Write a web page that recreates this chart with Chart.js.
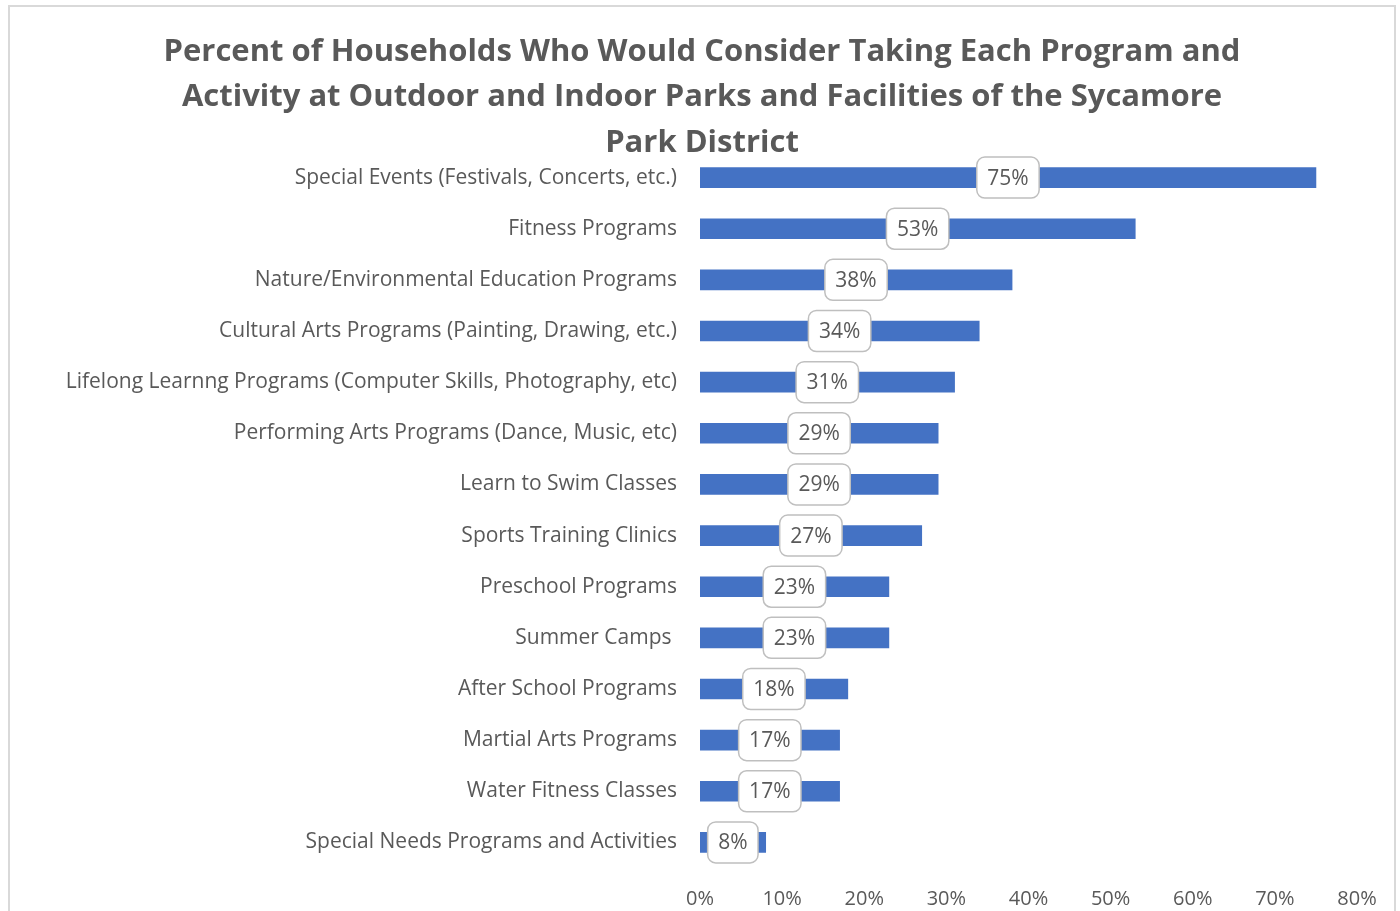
<!DOCTYPE html>
<html>
<head>
<meta charset="utf-8">
<script src="https://cdn.jsdelivr.net/npm/chart.js@4"></script>
<style>
  html, body { margin: 0; padding: 0; background: #fff; }
  #frame { position: absolute; left: 8px; top: 5px; width: 1388px; height: 940px; border: 2px solid #d9d9d9; box-sizing: border-box; }
  #wrap { position: absolute; left: 0; top: 0; width: 1400px; height: 911px; }
</style>
</head>
<body>
<div id="frame"></div>
<div id="wrap"><canvas id="programChart" width="1400" height="911"></canvas></div>
<script>
var programs = [
    "Special Events (Festivals, Concerts, etc.)",
    "Fitness Programs",
    "Nature/Environmental Education Programs",
    "Cultural Arts Programs (Painting, Drawing, etc.)",
    "Lifelong Learnng Programs (Computer Skills, Photography, etc)",
    "Performing Arts Programs (Dance, Music, etc)",
    "Learn to Swim Classes",
    "Sports Training Clinics",
    "Preschool Programs",
    "Summer Camps ",
    "After School Programs",
    "Martial Arts Programs",
    "Water Fitness Classes",
    "Special Needs Programs and Activities"
];
var percents = [75, 53, 38, 34, 31, 29, 29, 27, 23, 23, 18, 17, 17, 8];
var percentTicks = [0, 10, 20, 30, 40, 50, 60, 70, 80];
var titleLines = [
    "Percent of Households Who Would Consider Taking Each Program and",
    "Activity at Outdoor and Indoor Parks and Facilities of the Sycamore",
    "Park District"
];

var textColor = "#595959";
var fontFamily = "'Open Sans', sans-serif";

// title drawn by hand so it can sit over the top of the plot area
var titlePlugin = {
    id: "titleLines",
    afterDraw: function (chart) {
        var ctx = chart.ctx;
        ctx.save();
        ctx.fillStyle = textColor;
        ctx.font = "bold 31px " + fontFamily;
        ctx.textAlign = "center";
        ctx.textBaseline = "middle";
        titleLines.forEach(function (line, i) {
            ctx.fillText(line, 702, 52 + i * 45.5);
        });
        ctx.restore();
    }
};

// value boxes centred on each bar
var valueBoxPlugin = {
    id: "valueBoxes",
    afterDatasetsDraw: function (chart) {
        var ctx = chart.ctx;
        var meta = chart.getDatasetMeta(0);
        ctx.save();
        ctx.font = "21px " + fontFamily;
        ctx.textAlign = "center";
        ctx.textBaseline = "middle";
        meta.data.forEach(function (bar, i) {
            var text = percents[i] + "%";
            var cx = (bar.x + bar.base) / 2;
            var cy = bar.y;
            var w = ctx.measureText(text).width + 21;
            var h = 41;
            ctx.beginPath();
            ctx.roundRect(cx - w / 2, cy - h / 2, w, h, 8);
            ctx.fillStyle = "#ffffff";
            ctx.fill();
            ctx.lineWidth = 1.5;
            ctx.strokeStyle = "#bfbfbf";
            ctx.stroke();
            ctx.fillStyle = textColor;
            ctx.fillText(text, cx, cy + 1);
        });
        ctx.restore();
    }
};

var programChart = new Chart(document.getElementById("programChart"), {
    type: "bar",
    data: {
        labels: programs,
        datasets: [{
            data: percents,
            backgroundColor: "#4472C4",
            barThickness: 20
        }]
    },
    options: {
        indexAxis: "y",
        responsive: false,
        animation: false,
        layout: { padding: { top: 152, right: 43, bottom: 0, left: 0 } },
        plugins: {
            legend: { display: false },
            title: { display: false },
            tooltip: { enabled: false }
        },
        scales: {
            x: {
                min: 0,
                max: 80,
                afterBuildTicks: function (scale) {
                    scale.ticks = percentTicks.map(function (v) { return { value: v }; });
                },
                afterFit: function (scale) { scale.height = 43; },
                grid: { display: false, drawTicks: false },
                border: { display: false },
                ticks: {
                    padding: 19,
                    color: textColor,
                    font: { family: fontFamily, size: 20 },
                    callback: function (v) { return v + "%"; }
                }
            },
            y: {
                afterFit: function (scale) { scale.width = 700; },
                grid: { display: false, drawTicks: false },
                border: { display: false },
                ticks: {
                    padding: 23,
                    color: textColor,
                    font: { family: fontFamily, size: 21 }
                }
            }
        }
    },
    plugins: [titlePlugin, valueBoxPlugin]
});
</script>
</body>
</html>
